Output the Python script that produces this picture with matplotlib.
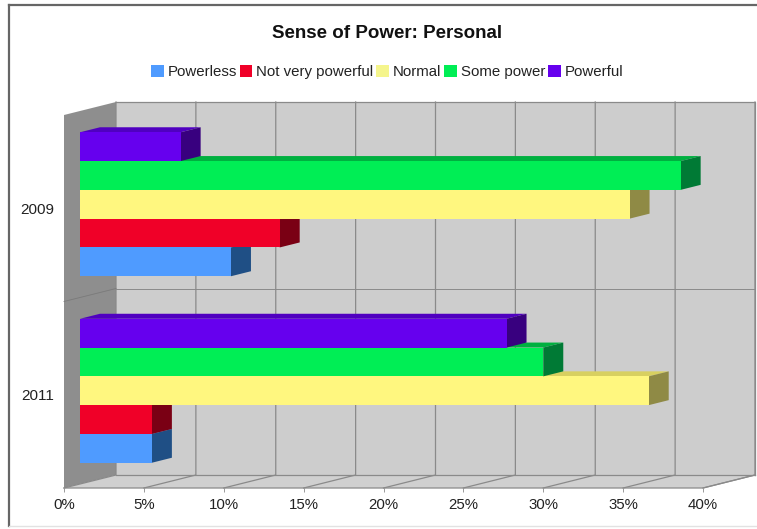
import matplotlib
matplotlib.use("Agg")
import matplotlib.pyplot as plt
from matplotlib.lines import Line2D
from matplotlib.patches import Polygon, Patch

plt.rcParams['font.family'] = ['Liberation Sans', 'DejaVu Sans']

categories = ['2011', '2009']
series_names = ['Powerless', 'Not very powerful', 'Normal', 'Some power', 'Powerful']
powerless = [4.5, 9.45]
not_very_powerful = [4.5, 12.5]
normal = [35.6, 34.4]
some_power = [29.0, 37.6]
powerful = [26.7, 6.3]
tick_values = [0, 5, 10, 15, 20, 25, 30, 35, 40]

series = [powerless, not_very_powerful, normal, some_power, powerful]
colors = ['#4F9BFF', '#F00028', '#FFF77F', '#00EE55', '#6600EE']
side_colors = ['#1F4F85', '#7A0014', '#8F8A45', '#007A35', '#38007F']
top_colors = ['#3F7FD0', '#C00020', '#D8D060', '#00B040', '#5000C0']

W, H = 757, 529
LEFT, RIGHT, TOP, BOTTOM = 64, 703, 115, 488

# the fake 3d depth, in pixels, from front plane to back wall
DEPTH_X = 52
DEPTH_Y = 13
BAR_FRONT = 16 / 52
BAR_BACK = 36 / 52
BAR_HEIGHT = 0.1544

fig = plt.figure(figsize=(W / 100, H / 100), dpi=100)
fig.patch.set_facecolor('white')
ax = fig.add_axes([LEFT / W, 1 - BOTTOM / H, (RIGHT - LEFT) / W, (BOTTOM - TOP) / H])
ax.set_xlim(0, 40)
ax.set_ylim(0, 2)
ax.patch.set_visible(False)
for s in ax.spines.values():
    s.set_visible(False)

x_per_depth = DEPTH_X / ((RIGHT - LEFT) / 40)
y_per_depth = DEPTH_Y / ((BOTTOM - TOP) / 2)


def proj(x, y, depth=0.0):
    return (x + x_per_depth * depth, y + y_per_depth * depth)


def face(points, color, z=1):
    ax.add_patch(Polygon([proj(*p) for p in points], closed=True, facecolor=color,
                         edgecolor='none', linewidth=0, zorder=z, clip_on=False))


def path(points, color='#8A8A8A', lw=0.9):
    xs, ys = zip(*[proj(*p) for p in points])
    ax.plot(xs, ys, color=color, lw=lw, zorder=2, clip_on=False)


# walls and floor
face([(0, 0, 1), (40, 0, 1), (40, 2, 1), (0, 2, 1)], '#CDCDCD')
face([(0, 0, 0), (0, 2, 0), (0, 2, 1), (0, 0, 1)], '#8E8E8E')
face([(0, 0, 0), (40, 0, 0), (40, 0, 1), (0, 0, 1)], '#D0D0D0')

for v in tick_values:
    path([(v, 0, 0), (v, 0, 1), (v, 2, 1)])
path([(0, 0, 0), (40, 0, 0), (40, 0, 1)])
path([(0, 2, 1), (40, 2, 1), (40, 0, 1)])
path([(0, 0, 1), (40, 0, 1)])
# divider between the two years
path([(0, 1, 0), (0, 1, 1)], color='#7A7A7A', lw=0.6)
path([(0, 1, 1), (40, 1, 1)], lw=0.7)

# bars, bottom one first so the bar above hides its top face
zorder = 3
for c in range(len(categories)):
    center = c + 0.5
    for i, vals in enumerate(series):
        y0 = center + (i - 2.5) * BAR_HEIGHT
        y1 = y0 + BAR_HEIGHT
        v = vals[c]
        face([(0, y1, BAR_FRONT), (v, y1, BAR_FRONT), (v, y1, BAR_BACK), (0, y1, BAR_BACK)], top_colors[i], zorder)
        face([(v, y0, BAR_FRONT), (v, y1, BAR_FRONT), (v, y1, BAR_BACK), (v, y0, BAR_BACK)], side_colors[i], zorder + 0.1)
        face([(0, y0, BAR_FRONT), (v, y0, BAR_FRONT), (v, y1, BAR_FRONT), (0, y1, BAR_FRONT)], colors[i], zorder + 0.2)
        zorder += 1

ax.set_xticks(tick_values)
ax.set_xticklabels(['%d%%' % v for v in tick_values], fontsize=10.8, color='#222222')
ax.set_yticks([0.5, 1.5])
ax.set_yticklabels(categories, fontsize=11, color='#222222')
ax.tick_params(axis='x', length=3, width=0.7, color='#999999', pad=4.5)
ax.tick_params(axis='y', length=0, pad=7)

fig.text((272 + 503) / 2 / W, 1 - 33.5 / H, 'Sense of Power: Personal', fontsize=13.5,
         fontweight='bold', ha='center', va='center', color='#111111')

handles = [Patch(facecolor=col, edgecolor='none', label=n) for col, n in zip(colors, series_names)]
handles[2] = Patch(facecolor='#F5F58C', edgecolor='none', label=series_names[2])
fig.legend(handles=handles, loc='center', bbox_to_anchor=(387 / W, 1 - 72 / H), ncol=5,
           frameon=False, fontsize=10.8, handlelength=0.85, handleheight=0.85,
           handletextpad=0.25, columnspacing=0.2, borderpad=0, labelcolor='#222222')

# picture frame: dark on left and top, faint at the bottom, none on the right
fig.add_artist(Line2D([9 / W, 9 / W], [1 - 5 / H, 1 - 526 / H], color='#666666', lw=1.6))
fig.add_artist(Line2D([9 / W, 1], [1 - 5 / H, 1 - 5 / H], color='#666666', lw=1.6))
fig.add_artist(Line2D([9 / W, 1], [1 - 526 / H, 1 - 526 / H], color='#E2E2E2', lw=1.0))

fig.savefig('out.png', dpi=100)
